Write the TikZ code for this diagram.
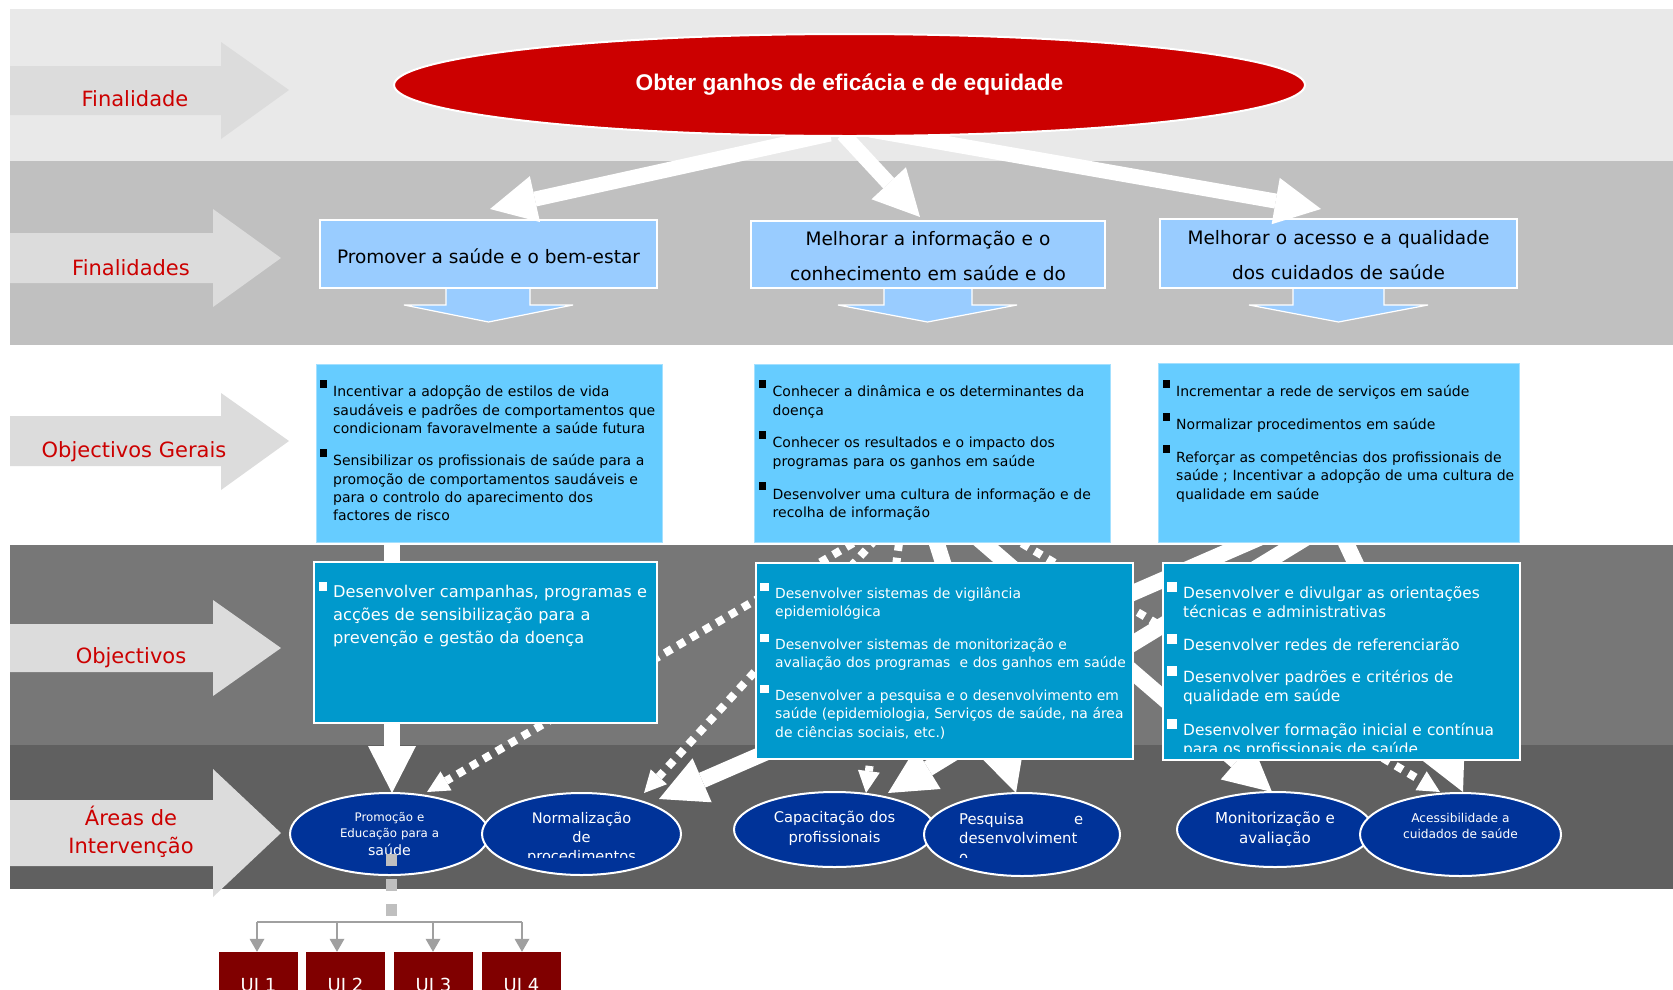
\documentclass[tikz,border=0pt]{standalone}
\usepackage{fontspec}
\setmainfont{DejaVu Sans}
\newfontfamily\arialfont{Liberation Sans}
\usetikzlibrary{arrows.meta,shapes.geometric}
\definecolor{bandA}{HTML}{E9E9E9}
\definecolor{bandB}{HTML}{C0C0C0}
\definecolor{bandC}{HTML}{777777}
\definecolor{bandD}{HTML}{606060}
\definecolor{lblarrow}{HTML}{DCDCDC}
\definecolor{lblred}{HTML}{CC0000}
\definecolor{goalred}{HTML}{CC0000}
\definecolor{finblue}{HTML}{99CCFF}
\definecolor{ogblue}{HTML}{66CCFF}
\definecolor{oblue}{HTML}{0099CC}
\definecolor{areablue}{HTML}{003399}
\definecolor{uired}{HTML}{800000}
\definecolor{treegray}{HTML}{A0A0A0}
\definecolor{dashgray}{HTML}{BFBFBF}
\newcommand\myfs[2]{\fontsize{#1pt}{#2pt}\selectfont}
\newcommand\bul[4]{\leavevmode\llap{\textcolor{#4}{\rule[#1pt]{#2pt}{#3pt}}\hspace{6.5pt}}}
\begin{document}
\begin{tikzpicture}[x=1pt,y=-1pt,
  lbl/.style={text=lblred, font=\myfs{21}{26}, anchor=base, inner sep=0},
  finbox/.style={draw=white, line width=2pt, fill=finblue, inner sep=0},
  ogbox/.style={draw=ogblue!60!white, line width=1pt, fill=ogblue, inner sep=0},
  obox/.style={draw=white, line width=2pt, fill=oblue, inner sep=0},
  areaell/.style={ellipse, draw=white, line width=2pt, fill=areablue, inner sep=0},
  areatxt/.style={text=white, inner sep=0, anchor=north, align=center, text width=190pt},
  bodytxt/.style={inner sep=0, anchor=north west, align=left, text width=420pt},
  solidw/.style={draw=white, line width=16pt, -{Triangle[width=48pt,length=47pt,line width=0pt]}},
  topw/.style={draw=white, line width=15pt, -{Triangle[width=47pt,length=46pt,line width=0pt]}},
  dotw/.style={draw=white, line width=8pt, dash pattern=on 8pt off 7pt, -{Triangle[width=22pt,length=22pt,line width=0pt]}},
  treeline/.style={draw=treegray, line width=2.2pt},
  treearr/.style={draw=treegray, line width=2.2pt, -{Triangle[width=15pt,length=13pt,line width=0pt]}},
  uibox/.style={fill=uired, inner sep=0, minimum width=79pt, minimum height=70pt},
  downarr/.style={fill=finblue, draw=white, line width=1.2pt}
]
\useasboundingbox (0,0) rectangle (1673,989);
\clip (0,0) rectangle (1673,989);
\fill[white] (0,0) rectangle (1673,989);
% bands
\fill[bandA] (10,9) rectangle (1673,161);
\fill[bandB] (10,161) rectangle (1673,345);
\fill[bandC] (10,545) rectangle (1673,745);
\fill[bandD] (10,745) rectangle (1673,889);
% left arrows
\fill[lblarrow] (10,66) -- (221,66) -- (221,42) -- (289,90) -- (221,139) -- (221,115) -- (10,115) -- cycle;
\fill[lblarrow] (10,233) -- (213,233) -- (213,209) -- (281,258) -- (213,307) -- (213,283) -- (10,283) -- cycle;
\fill[lblarrow] (10,416) -- (221,416) -- (221,393) -- (289,441) -- (221,490) -- (221,466) -- (10,466) -- cycle;
\fill[lblarrow] (10,624) -- (213,624) -- (213,600) -- (281,648) -- (213,696) -- (213,672) -- (10,672) -- cycle;
\fill[lblarrow] (10,800) -- (213,800) -- (213,769) -- (281,833) -- (213,897) -- (213,866) -- (10,866) -- cycle;
\node[lbl] (labA) at (135,106) {Finalidade};
\node[lbl] (labB) at (131,275) {Finalidades};
\node[lbl] (labC) at (134,457) {Objectivos Gerais};
\node[lbl] (labD) at (131,663) {Objectivos};
\node[lbl] (labE1) at (131,825) {Áreas de};
\node[lbl] (labE2) at (131,853) {Intervenção};
% finalidades boxes
\fill[downarr] (446,287) -- (446,305) -- (404,305) -- (488.5,322) -- (573,305) -- (530,305) -- (530,287) -- cycle;
\fill[downarr] (884,287) -- (884,305) -- (838,305) -- (927.5,322) -- (1017,305) -- (972,305) -- (972,287) -- cycle;
\fill[downarr] (1293,287) -- (1293,305) -- (1249,305) -- (1338.5,322) -- (1428,305) -- (1384,305) -- (1384,287) -- cycle;
\node[finbox, minimum width=337pt, minimum height=68pt] (fin1) at (488.5,254) {};
\node[finbox, minimum width=354pt, minimum height=67pt] (fin2) at (928,254.5) {};
\node[finbox, minimum width=357pt, minimum height=69pt] (fin3) at (1338.5,253.5) {};
\node[font=\myfs{18.5}{22}, anchor=base, inner sep=0] (fin1t) at (488.5,263) {Promover a saúde e o bem-estar};
\node[font=\myfs{18.5}{35}, anchor=north, inner sep=0, align=center, text width=354pt] (fin2t) at (928,225) {\rule{0pt}{20pt}Melhorar a informação e o\\conhecimento em saúde e do};
\node[font=\myfs{18.5}{35}, anchor=north, inner sep=0, align=center, text width=357pt] (fin3t) at (1338.5,224) {\rule{0pt}{20pt}Melhorar o acesso e a qualidade\\dos cuidados de saúde};
% top arrows and goal
\coordinate (t1s) at (830,134); \coordinate (t1e) at (490,209);
\coordinate (t2s) at (843,134); \coordinate (t2e) at (920,217);
\coordinate (t3s) at (870,130); \coordinate (t3e) at (1321,209);
\draw[topw] (t1s) -- (t1e);
\draw[topw] (t2s) -- (t2e);
\draw[topw] (t3s) -- (t3e);
\node[ellipse, draw=white, line width=2pt, fill=goalred, minimum width=911pt, minimum height=102pt, inner sep=0] (goal) at (849.5,85) {};
\node[text=white, font=\arialfont\bfseries\myfs{22.7}{27}, anchor=base, inner sep=0] (goaltxt) at (849.5,90) {Obter ganhos de eficácia e de equidade};
% lower connectors
\coordinate (s1a) at (392,528);  \coordinate (s1b) at (392,793);
\coordinate (s2a) at (1282,528); \coordinate (s2b) at (659,799);
\coordinate (s3a) at (1322,528); \coordinate (s3b) at (888,793);
\coordinate (s4a) at (932,528);  \coordinate (s4b) at (1016,793);
\coordinate (s5a) at (966,528);  \coordinate (s5b) at (1272,792);
\coordinate (s6a) at (1339,528); \coordinate (s6b) at (1463,792);
\coordinate (d1a) at (879,528);  \coordinate (d1b) at (427,792);
\coordinate (d2a) at (886,528);  \coordinate (d2b) at (644,793);
\coordinate (d3a) at (996,528);  \coordinate (d3b) at (1440,792);
\coordinate (d4a) at (901,528);  \coordinate (d4b) at (866,793);
\draw[dotw] (d1a) -- (d1b);
\draw[dotw] (d2a) -- (d2b);
\draw[dotw] (d3a) -- (d3b);
\draw[dotw] (d4a) -- (d4b);
\draw[solidw] (s1a) -- (s1b);
\draw[solidw] (s2a) -- (s2b);
\draw[solidw] (s3a) -- (s3b);
\draw[solidw] (s4a) -- (s4b);
\draw[solidw] (s5a) -- (s5b);
\draw[solidw] (s6a) -- (s6b);
% objectivos gerais
\node[ogbox, minimum width=346pt, minimum height=178pt] (og1) at (489,453) {};
\node[ogbox, minimum width=356pt, minimum height=178pt] (og2) at (932,453) {};
\node[ogbox, minimum width=361pt, minimum height=179pt] (og3) at (1338.5,452.5) {};
\node[bodytxt, font=\myfs{14}{18.3}] (og1t) at (333,376.6) {\rule{0pt}{20pt}\bul{9}{7}{8}{black}Incentivar a adopção de estilos de vida\\saudáveis e padrões de comportamentos que\\condicionam favoravelmente a saúde futura\\[14pt]\bul{9}{7}{8}{black}Sensibilizar os profissionais de saúde para a\\promoção de comportamentos saudáveis e\\para o controlo do aparecimento dos\\factores de risco};
\node[bodytxt, font=\myfs{14}{18.3}] (og2t) at (772.5,376.6) {\rule{0pt}{20pt}\bul{9}{7}{8}{black}Conhecer a dinâmica e os determinantes da\\doença\\[12pt]\bul{9}{7}{8}{black}Conhecer os resultados e o impacto dos\\programas para os ganhos em saúde\\[12pt]\bul{9}{7}{8}{black}Desenvolver uma cultura de informação e de\\recolha de informação};
\node[bodytxt, font=\myfs{14}{18.3}] (og3t) at (1176,376.6) {\rule{0pt}{20pt}\bul{9}{7}{8}{black}Incrementar a rede de serviços em saúde\\[12pt]\bul{9}{7}{8}{black}Normalizar procedimentos em saúde\\[12pt]\bul{9}{7}{8}{black}Reforçar as competências dos profissionais de\\saúde ; Incentivar a adopção de uma cultura de\\qualidade em saúde};
% objectivos
\node[obox, minimum width=343pt, minimum height=161pt] (ob1) at (485.5,642.5) {};
\node[obox, minimum width=377pt, minimum height=196pt] (ob2) at (944.5,661) {};
\node[obox, minimum width=357pt, minimum height=197pt] (ob3) at (1341.5,661.5) {};
\node[bodytxt, text=white, font=\myfs{16.2}{23}] (ob1t) at (333,577) {\rule{0pt}{20pt}\bul{6}{8}{9}{white}Desenvolver campanhas, programas e\\acções de sensibilização para a\\prevenção e gestão da doença};
\node[bodytxt, text=white, font=\myfs{13.9}{18.3}] (ob2t) at (775,578) {\rule{0pt}{20pt}\bul{7}{9}{8}{white}Desenvolver sistemas de vigilância\\epidemiológica\\[14.5pt]\bul{7}{9}{8}{white}Desenvolver sistemas de monitorização e\\avaliação dos programas\ \ e dos ganhos em saúde\\[14.5pt]\bul{7}{9}{8}{white}Desenvolver a pesquisa e o desenvolvimento em\\saúde (epidemiologia, Serviços de saúde, na área\\de ciências sociais, etc.)};
\begin{scope}
\clip (1160,560) rectangle (1525,751);
\node[bodytxt, text=white, font=\myfs{15.4}{19}] (ob3t) at (1183,578.5) {\rule{0pt}{20pt}\bul{6.5}{10}{10}{white}Desenvolver e divulgar as orientações\\técnicas e administrativas\\[13.5pt]\bul{6.5}{10}{10}{white}Desenvolver redes de referenciarão\\[13.5pt]\bul{6.5}{10}{10}{white}Desenvolver padrões e critérios de\\qualidade em saúde\\[13.5pt]\bul{6.5}{10}{10}{white}Desenvolver formação inicial e contínua\\para os profissionais de saúde};
\end{scope}
% areas
\node[areaell, minimum width=199pt, minimum height=82pt] (ar1) at (389.5,834) {};
\node[areaell, minimum width=199pt, minimum height=82pt] (ar2) at (581.5,834) {};
\node[areaell, minimum width=201pt, minimum height=75pt] (ar3) at (834.5,829.5) {};
\node[areaell, minimum width=196pt, minimum height=83pt] (ar4) at (1022,834.5) {};
\node[areaell, minimum width=196pt, minimum height=75pt] (ar5) at (1275,829.5) {};
\node[areaell, minimum width=201pt, minimum height=83pt] (ar6) at (1460.5,834.5) {};
\node[areatxt, font=\myfs{11.8}{16}] (ar1t) at (389.5,801) {\rule{0pt}{20pt}Promoção e\\Educação para a\\[2pt]{\myfs{14.2}{18}saúde}};
\begin{scope}
\clip (470,790) rectangle (700,857);
\node[areatxt, font=\myfs{14.6}{19}] (ar2t) at (581.5,803) {\rule{0pt}{20pt}Normalização\\de\\procedimentos};
\end{scope}
\node[areatxt, font=\myfs{14.7}{20}] (ar3t) at (834.5,802) {\rule{0pt}{20pt}Capacitação dos\\profissionais};
\begin{scope}
\clip (920,790) rectangle (1125,857);
\node[bodytxt, text=white, text width=124pt, font=\myfs{14.8}{19}] (ar4t) at (959,804) {\rule{0pt}{20pt}\makebox[124pt]{Pesquisa\hfill e}\\desenvolviment\\o};
\end{scope}
\node[areatxt, font=\myfs{15.1}{20}] (ar5t) at (1275,803) {\rule{0pt}{20pt}Monitorização e\\avaliação};
\node[areatxt, font=\myfs{12.2}{16}] (ar6t) at (1460.5,802) {\rule{0pt}{20pt}Acessibilidade a\\cuidados de saúde};
% tree to UI
\coordinate (tr0) at (391,854); \coordinate (tr1) at (391,916);
\draw[dashgray, line width=11pt, dash pattern=on 12pt off 13pt] (tr0) -- (tr1);
\node[uibox] (ui1) at (258.5,987) {};
\node[uibox] (ui2) at (345.5,987) {};
\node[uibox] (ui3) at (433.5,987) {};
\node[uibox] (ui4) at (521.5,987) {};
\coordinate (tb1) at (257,922); \coordinate (tb2) at (337,922);
\coordinate (tb3) at (433,922); \coordinate (tb4) at (522,922);
\draw[treeline] (tb1) -- (tb4);
\draw[treearr] (tb1) -- (tb1 |- ui1.north);
\draw[treearr] (tb2) -- (tb2 |- ui2.north);
\draw[treearr] (tb3) -- (tb3 |- ui3.north);
\draw[treearr] (tb4) -- (tb4 |- ui4.north);
\node[text=white, font=\myfs{18}{20}, anchor=base, inner sep=0] (ui1t) at (258.5,991) {UI 1};
\node[text=white, font=\myfs{18}{20}, anchor=base, inner sep=0] (ui2t) at (345.5,991) {UI 2};
\node[text=white, font=\myfs{18}{20}, anchor=base, inner sep=0] (ui3t) at (433.5,991) {UI 3};
\node[text=white, font=\myfs{18}{20}, anchor=base, inner sep=0] (ui4t) at (521.5,991) {UI 4};
\end{tikzpicture}
\end{document}
